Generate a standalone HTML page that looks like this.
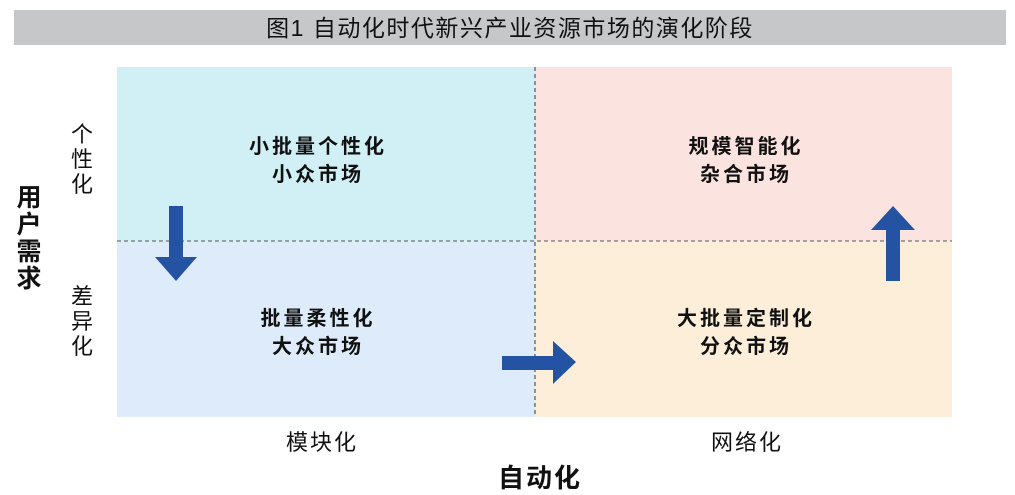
<!DOCTYPE html>
<html><head><meta charset="utf-8"><style>
body{margin:0;width:1015px;height:490px;background:#fff;position:relative;overflow:hidden;font-family:"Liberation Sans","Noto Sans CJK SC",sans-serif;color:#111}
.a{position:absolute}
.t{text-align:center;font-weight:bold;font-size:20px;line-height:28px;width:300px;letter-spacing:3px}
.v{width:30px;text-align:center;font-size:22px;line-height:25px}
</style></head><body>
<div class="a" style="left:14px;top:10px;width:992px;height:35px;background:#c6c7c9;text-align:center;font-size:23px;line-height:36px;letter-spacing:1.5px">图1 自动化时代新兴产业资源市场的演化阶段</div>
<div class="a" style="left:117px;top:67px;width:418px;height:174px;background:#d0f0f5"></div>
<div class="a" style="left:535px;top:67px;width:417px;height:174px;background:#fbe3e0"></div>
<div class="a" style="left:117px;top:241px;width:418px;height:176px;background:#ddebfb"></div>
<div class="a" style="left:535px;top:241px;width:417px;height:176px;background:#fdeed9"></div>
<svg class="a" style="left:0;top:0" width="1015" height="490">
<line x1="117" y1="241" x2="952" y2="241" stroke="#555" stroke-dasharray="4,3" stroke-width="1"/>
<line x1="535" y1="67" x2="535" y2="417" stroke="#555" stroke-dasharray="4,3" stroke-width="1.2"/>
<polygon fill="#2553a3" points="169,206 183,206 183,257 197,257 176,281 155,257 169,257"/>
<polygon fill="#2553a3" points="502,356 553,356 553,341 576,362 553,384 553,370 502,370"/>
<polygon fill="#2553a3" points="886,281 900,281 900,230 915,230 893,206 871,230 886,230"/>
</svg>
<div class="a t" style="left:168px;top:133px">小批量个性化<br>小众市场</div>
<div class="a t" style="left:596px;top:133px">规模智能化<br>杂合市场</div>
<div class="a t" style="left:168px;top:305px">批量柔性化<br>大众市场</div>
<div class="a t" style="left:596px;top:305px">大批量定制化<br>分众市场</div>
<div class="a v" style="left:67px;top:122px">个<br>性<br>化</div>
<div class="a v" style="left:67px;top:284px">差<br>异<br>化</div>
<div class="a" style="left:12px;top:185px;width:34px;text-align:center;font-weight:bold;font-size:25px;line-height:27px">用<br>户<br>需<br>求</div>
<div class="a" style="left:222px;top:425px;width:200px;text-align:center;font-size:22px;letter-spacing:2px">模块化</div>
<div class="a" style="left:647px;top:425px;width:200px;text-align:center;font-size:22px;letter-spacing:2px">网络化</div>
<div class="a" style="left:440px;top:458px;width:200px;text-align:center;font-size:26px;font-weight:bold;letter-spacing:2px">自动化</div>
</body></html>
